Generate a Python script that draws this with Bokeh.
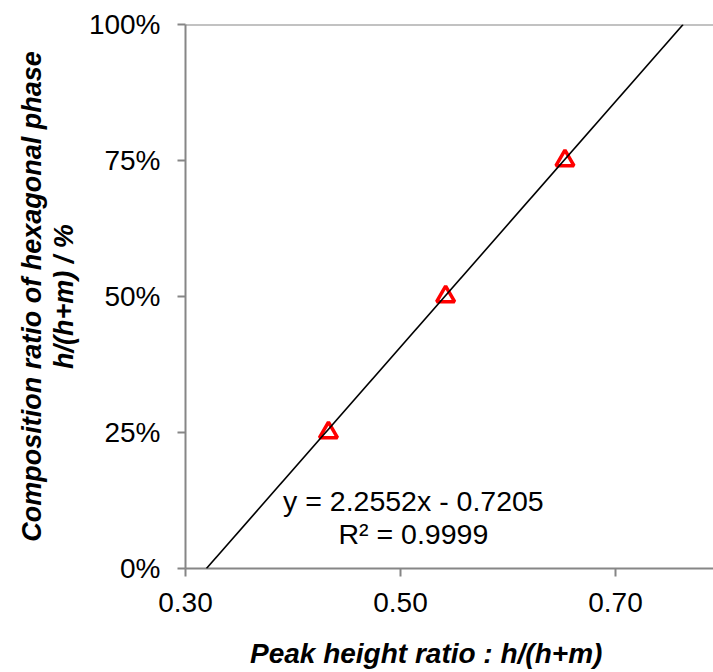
from bokeh.plotting import figure
from bokeh.models import Range1d, FixedTicker, NumeralTickFormatter, Slope, Span, Label
from bokeh.embed import file_html
from bokeh.resources import INLINE

# Data
peak_ratio = [0.433, 0.542, 0.653]
composition = [0.25, 0.50, 0.75]
fit_slope = 2.2552
fit_intercept = -0.7205
fit_r2 = 0.9999
x_ticks = [0.30, 0.50, 0.70]
y_ticks = [0.0, 0.25, 0.50, 0.75, 1.0]

FONT = "Liberation Sans"
AXIS_GRAY = "#868686"

p = figure(width=713, height=672, output_backend="svg", toolbar_location=None,
           x_range=Range1d(0.30, 0.7912), y_range=Range1d(0.0, 1.0),
           min_border_left=185, min_border_right=0, min_border_top=24, min_border_bottom=104)
p.outline_line_color = None
p.grid.visible = False
p.background_fill_color = "white"
p.border_fill_color = "white"

# axes
p.xaxis.ticker = FixedTicker(ticks=x_ticks)
p.yaxis.ticker = FixedTicker(ticks=y_ticks)
p.xaxis.formatter = NumeralTickFormatter(format="0.00")
p.yaxis.formatter = NumeralTickFormatter(format="0%")
for ax in (p.xaxis[0], p.yaxis[0]):
    ax.axis_line_color = AXIS_GRAY
    ax.axis_line_width = 2
    ax.major_tick_line_color = AXIS_GRAY
    ax.major_tick_line_width = 2
    ax.major_tick_in = 0
    ax.major_tick_out = 8
    ax.minor_tick_line_color = None
    ax.major_label_text_font = FONT
    ax.major_label_text_font_size = "28px"
    ax.major_label_text_color = "black"
    ax.axis_label_text_font = FONT
    ax.axis_label_text_font_style = "bold italic"
    ax.axis_label_text_color = "black"

# x title: trailing no-break spaces shift it slightly left of the frame centre, as in the reference
p.xaxis.axis_label = "Peak height ratio : h/(h+m)" + "\u00a0" * 6
p.xaxis.axis_label_text_font_size = "28px"
p.xaxis.major_label_standoff = 16
p.xaxis.axis_label_standoff = 23
p.yaxis.axis_label = "Composition ratio of hexagonal phase\nh/(h+m) / %"
p.yaxis.axis_label_text_font_size = "27px"
p.yaxis.major_label_standoff = 17
p.yaxis.axis_label_standoff = 7
p.yaxis.axis_label_text_line_height = 1.05

# top border line at 100%
p.add_layout(Span(location=1.0, dimension="width", line_color=AXIS_GRAY, line_width=2))

# trend line
p.add_layout(Slope(gradient=fit_slope, y_intercept=fit_intercept, line_color="black", line_width=1.6))

# data points
p.scatter(peak_ratio, composition, marker="triangle", size=18, fill_color=None,
          line_color="#FF0000", line_width=3.5)

# equation text
eq = "y = %.4fx - %.4f" % (fit_slope, -fit_intercept)
r2 = "R\u00b2 = %.4f" % fit_r2
p.add_layout(Label(x=0.512, y=0.125, text=eq, text_align="center", text_baseline="middle",
                   text_font=FONT, text_font_size="28.5px", text_color="black"))
p.add_layout(Label(x=0.512, y=0.063, text=r2, text_align="center", text_baseline="middle",
                   text_font=FONT, text_font_size="28.5px", text_color="black"))

open("out.html", "w").write(file_html(p, INLINE))
